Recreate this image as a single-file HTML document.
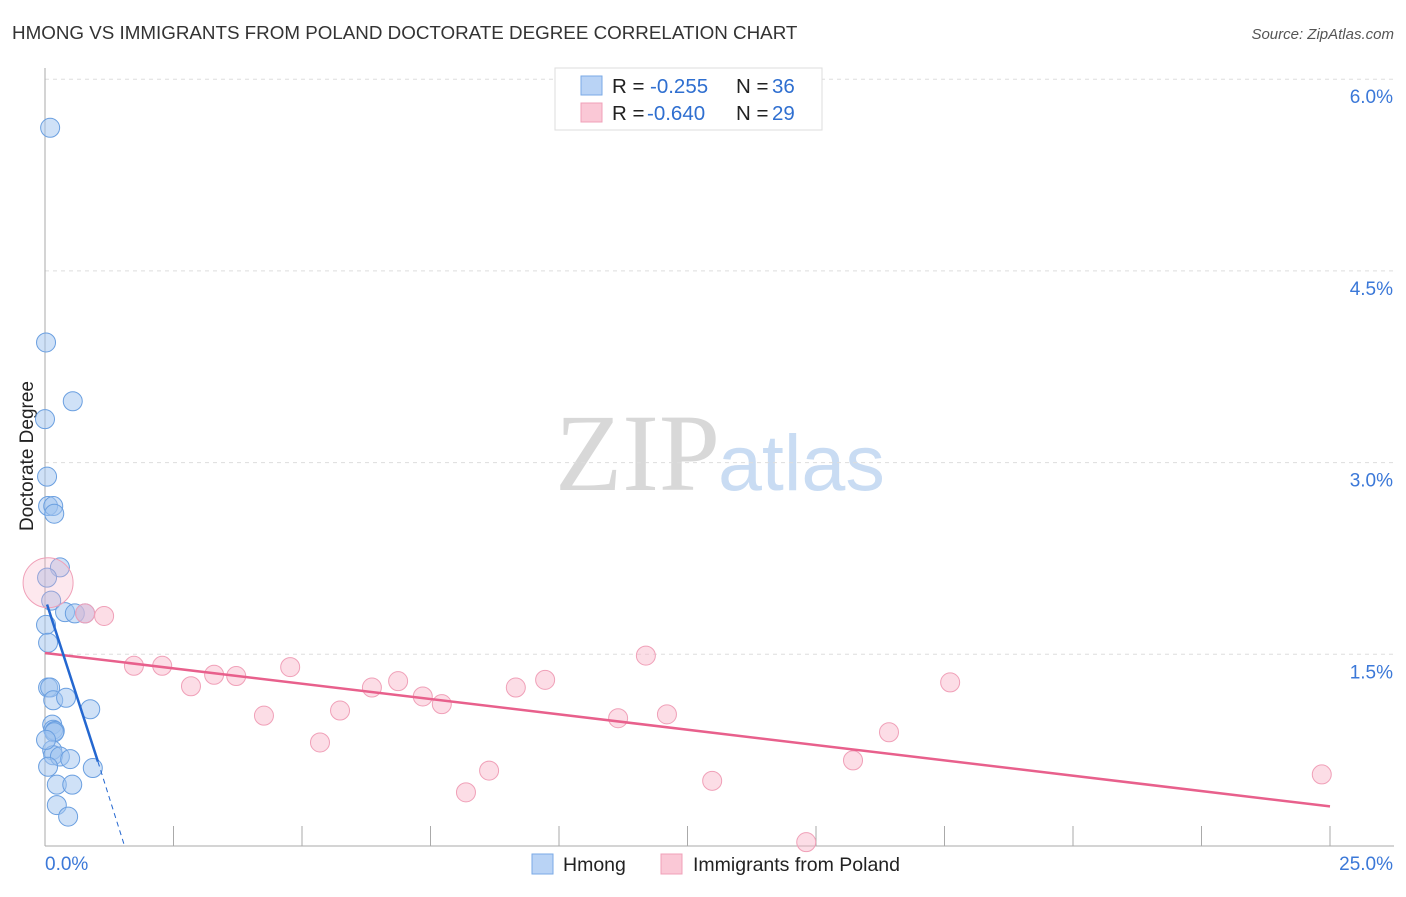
<!DOCTYPE html>
<html><head><meta charset="utf-8"><style>
body{margin:0;background:#fff;font-family:"Liberation Sans",sans-serif;}
#c{position:relative;width:1406px;height:892px;}
</style></head><body>
<div id="c">
<svg id="s" width="1406" height="892" xmlns="http://www.w3.org/2000/svg">
<text x="12" y="39" font-size="18.8" fill="#333">HMONG VS IMMIGRANTS FROM POLAND DOCTORATE DEGREE CORRELATION CHART</text>
<text x="1394" y="39" font-size="15" fill="#555" text-anchor="end" font-style="italic">Source: ZipAtlas.com</text>
<text x="33" y="456" font-size="19" fill="#222" text-anchor="middle" transform="rotate(-90 33 456)">Doctorate Degree</text>
<text x="555" y="490" font-size="110" fill="#d8d8d8" font-family="Liberation Serif,serif">ZIP</text>
<text x="718" y="490" font-size="79" fill="#c9dcf3">atlas</text>
<g id="grid"></g><g id="axes"></g><g id="pts"></g><g id="trend"></g>
<g>
<rect x="555" y="68" width="267" height="62" fill="#fff" stroke="#ddd"/>
<rect x="581" y="76" width="21" height="19" fill="#b9d3f5" stroke="#7aa9e6"/>
<rect x="581" y="103" width="21" height="19" fill="#fac8d6" stroke="#f0a0b8"/>
<text x="612" y="93" font-size="20.5" fill="#222">R = <tspan x="650" fill="#2f6fd0">-0.255</tspan><tspan x="736">N = </tspan><tspan x="772" fill="#2f6fd0">36</tspan></text>
<text x="612" y="120" font-size="20.5" fill="#222">R = <tspan x="647" fill="#2f6fd0">-0.640</tspan><tspan x="736">N = </tspan><tspan x="772" fill="#2f6fd0">29</tspan></text>
</g>
<g>
<rect x="532" y="854" width="21" height="20" fill="#b9d3f5" stroke="#7aa9e6"/>
<text x="563" y="871" font-size="19.5" fill="#222">Hmong</text>
<rect x="661" y="854" width="21" height="20" fill="#fac8d6" stroke="#f0a0b8"/>
<text x="693" y="871" font-size="19.5" fill="#222">Immigrants from Poland</text>
</g>
</svg>
</div>
<script>
const yTicks=[1.5,3.0,4.5,6.0];
const xTickLabels=["0.0%","25.0%"];
const hmongX=[0.10,0.02,0.54,0.0,0.04,0.06,0.16,0.18,0.29,0.04,0.12,0.39,0.58,0.78,0.02,0.06,0.06,0.10,0.16,0.41,0.88,0.14,0.16,0.19,0.18,0.14,0.16,0.29,0.49,0.93,0.06,0.23,0.53,0.23,0.45,0.02];
const hmongY=[5.62,3.94,3.48,3.34,2.89,2.66,2.66,2.60,2.18,2.10,1.92,1.83,1.82,1.82,1.73,1.59,1.24,1.24,1.14,1.16,1.07,0.95,0.91,0.90,0.89,0.75,0.71,0.70,0.68,0.61,0.62,0.48,0.48,0.32,0.23,0.83];
const polandX=[0.06,1.15,0.78,1.73,2.28,2.84,3.29,3.72,4.26,4.77,5.35,5.74,6.36,6.87,7.35,7.72,8.19,8.64,9.16,9.73,11.15,11.69,12.10,12.98,14.81,15.72,16.42,17.61,24.84];
const polandY=[2.06,1.80,1.82,1.41,1.41,1.25,1.34,1.33,1.02,1.40,0.81,1.06,1.24,1.29,1.17,1.11,0.42,0.59,1.24,1.30,1.00,1.49,1.03,0.51,0.03,0.67,0.89,1.28,0.56];
const polandR=[25,9.5,9.5,9.5,9.5,9.5,9.5,9.5,9.5,9.5,9.5,9.5,9.5,9.5,9.5,9.5,9.5,9.5,9.5,9.5,9.5,9.5,9.5,9.5,9.5,9.5,9.5,9.5,9.5];
const hmongTrend=[[0.04,1.89],[1.03,0.66]];
const hmongTrendDash=[[1.03,0.66],[1.54,0.01]];
const polandTrend=[[0,1.51],[25,0.31]];
const X=v=>45+v/25*1285, Y=v=>846-v*127.8;
const NS="http://www.w3.org/2000/svg";
function mk(t,a,p){const e=document.createElementNS(NS,t);for(const k in a)e.setAttribute(k,a[k]);document.getElementById(p).appendChild(e);return e;}
yTicks.forEach(t=>{
 const l=mk('line',{x1:45,x2:1394,y1:Y(t),y2:Y(t),stroke:'#ddd','stroke-dasharray':'4,4'},'grid');
 
 
 const tx=mk('text',{x:1393,y:Y(t)+24,'font-size':19,fill:'#3b78d8','text-anchor':'end'},'grid');
 tx.textContent=t.toFixed(1)+'%';
 
 
});
let a=mk('line',{x1:45,x2:45,y1:68,y2:846,stroke:'#aaa'},'axes');


a=mk('line',{x1:45,x2:1394,y1:846,y2:846,stroke:'#aaa'},'axes');


for(let i=1;i<=10;i++){
 const t=mk('line',{x1:X(i*2.5),x2:X(i*2.5),y1:826,y2:846,stroke:'#aaa'},'axes');
 
 
}
[[0,45,'start'],[25,1393,'end']].forEach((d,i)=>{
 const t=mk('text',{x:d[1],y:870,'font-size':19,fill:'#3b78d8','text-anchor':d[2]},'axes');
 t.textContent=xTickLabels[i];
 
 
});
hmongX.forEach((v,i)=>{
 const c=mk('circle',{cx:X(v),cy:Y(hmongY[i]),r:9.5,fill:'rgba(160,196,240,0.5)',stroke:'#6a9fe0','stroke-width':1},'pts');
 
 
});
polandX.forEach((v,i)=>{
 const c=mk('circle',{cx:X(v),cy:Y(polandY[i]),r:polandR[i],fill:i===0?'rgba(248,180,200,0.3)':'rgba(248,180,200,0.45)',stroke:'#f0a0b8','stroke-width':1},'pts');
 
 
});
let l=mk('line',{x1:X(polandTrend[0][0]),y1:Y(polandTrend[0][1]),x2:X(polandTrend[1][0]),y2:Y(polandTrend[1][1]),stroke:'#e8608c','stroke-width':2.5},'trend');


l=mk('line',{x1:X(hmongTrend[0][0]),y1:Y(hmongTrend[0][1]),x2:X(hmongTrend[1][0]),y2:Y(hmongTrend[1][1]),stroke:'#2467d0','stroke-width':2.5},'trend');


l=mk('line',{x1:X(hmongTrendDash[0][0]),y1:Y(hmongTrendDash[0][1]),x2:X(hmongTrendDash[1][0]),y2:Y(hmongTrendDash[1][1]),stroke:'#2467d0','stroke-width':1,'stroke-dasharray':'5,4'},'trend');


</script>
</body></html>
